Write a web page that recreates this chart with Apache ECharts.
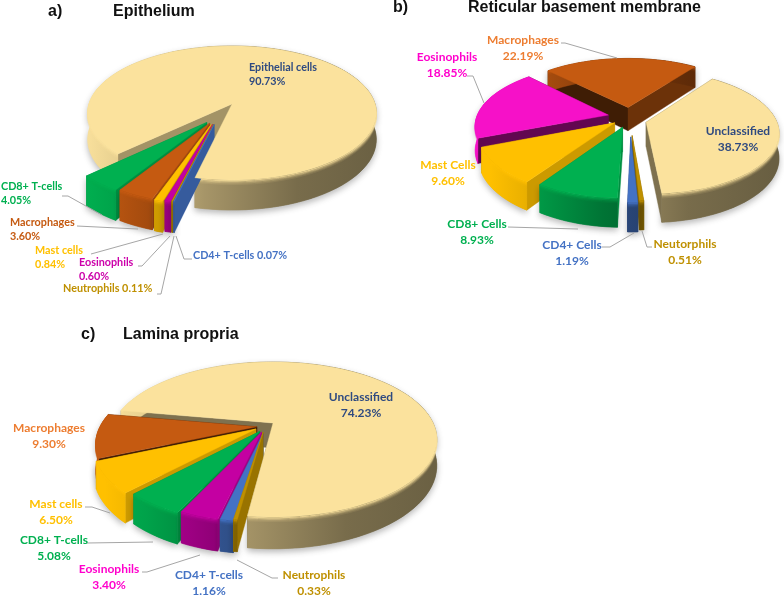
<!DOCTYPE html>
<html><head><meta charset="utf-8">
<style>html,body{margin:0;padding:0;background:#fff}#c{width:784px;height:596px}</style>
<script src="https://cdn.jsdelivr.net/npm/echarts@6/dist/echarts.min.js"></script>
</head><body><div id="c"></div>
<script>
// ---- data (percent, clockwise from the large slice)
const namesA = ['Epithelial cells','CD4+ T-cells','Neutrophils','Eosinophils','Mast cells','Macrophages','CD8+ T-cells'];
const valuesA = [90.73,0.07,0.11,0.60,0.84,3.60,4.05];
const namesB = ['Unclassified','Neutorphils','CD4+ Cells','CD8+ Cells','Mast Cells','Eosinophils','Macrophages'];
const valuesB = [38.73,0.51,1.19,8.93,9.60,18.85,22.19];
const namesC = ['Unclassified','Neutrophils','CD4+ T-cells','Eosinophils','CD8+ T-cells','Mast cells','Macrophages'];
const valuesC = [74.23,0.33,1.16,3.40,5.08,6.50,9.30];

// ---- presentation
const CREAM='#fbe29d',BLUE='#4472c4',GOLD='#bf9000',GREEN='#00b050',AMBER='#ffc000',RUST='#c55a11',PURP='#c400a2',PINK='#f611c8';
const NAVY='#2f4a80',ORANGE='#ed7d31',LPINK='#ff00cc';
const pies = [
 {names:namesA,values:valuesA,cx:232,cy:104,rx:143,ry:65.8,p:0.134,d:26,start:226.4,topOver:true,
  colors:[CREAM,BLUE,GOLD,PURP,AMBER,RUST,GREEN],
  shift:[[0,0],[-.12,.3],[-.125,.3],[-.13,.3],[-.14,.3],[-.15,.28],[-.17,.27]],
  radius:[1,.96,.96,.96,.97,.98,.99],
  cuts:[[.65,.6],[.8,.8],[.8,.8],[.8,.8],[.8,.8],[.8,.8],[.8,.8]],
  font:'bold 10.8px Lato',lh:14,
  labels:[[249,75,'left',NAVY,'Epithelial cells\n90.73%'],[193,256,'left',BLUE,'CD4+ T-cells 0.07%'],[63,289,'left',GOLD,'Neutrophils 0.11%'],[79,270,'left','#cc00aa','Eosinophils\n0.60%'],[35,258,'left',AMBER,'Mast cells\n0.84%'],[10,230,'left',RUST,'Macrophages\n3.60%'],[1,194,'left',GREEN,'CD8+ T-cells\n4.05%']],
  leaders:[[[62,196],[68,196],[102,215]],[[77,226],[138,229]],[[91,254],[163,234]],[[138,266],[142,266],[170,236]],[[157,294],[161,294],[174,236]],[[192,259],[184,259],[176,236]]]},
 {names:namesB,values:valuesB,cx:628,cy:118,rx:132,ry:60,p:0.16,d:24,start:36,
  colors:[CREAM,GOLD,BLUE,GREEN,AMBER,PINK,RUST],
  shift:[[.135,.07],[.03,.28],[.02,.3],[-.04,.15],[-.1,.08],[-.15,-.05],[0,-.18]],
  radius:[.98,.85,.85,.95,1,1,1],
  cuts:[[.5,.5],[.7,.7],[.6,.6],[.8,.8],[.8,.8],[.4,.4],[.32,.55]],
  font:'bold 12px Lato',lh:16,
  labels:[[738,139,'center',NAVY,'Unclassified\n38.73%'],[685,252,'center',GOLD,'Neutorphils\n0.51%'],[572,253,'center',BLUE,'CD4+ Cells\n1.19%'],[477,232,'center',GREEN,'CD8+ Cells\n8.93%'],[448,173,'center',AMBER,'Mast Cells\n9.60%'],[447,65,'center',LPINK,'Eosinophils\n18.85%'],[523,48,'center',ORANGE,'Macrophages\n22.19%']],
  leaders:[[[561,43],[565,43],[617,58]],[[467,76],[473,76],[484,103]],[[508,227],[578,229]],[[602,247],[610,247],[634,233]],[[652,247],[647,247],[642,231]]]},
 {names:namesC,values:valuesC,cx:273,cy:423,rx:160,ry:74,p:0.213,d:25,start:280,topOver:true,
  colors:[CREAM,GOLD,BLUE,PURP,GREEN,AMBER,RUST],
  shift:[[0,0],[-.06,.12],[-.06,.13],[-.07,.12],[-.08,.11],[-.105,.08],[-.1,.05]],
  radius:[1,.91,.91,.92,.94,.97,.97],
  cuts:[[.5,.5],[.8,.8],[.8,.8],[.8,.8],[.8,.8],[.8,.8],[.32,.32]],
  font:'bold 12px Lato',lh:16,
  labels:[[361,405,'center',NAVY,'Unclassified\n74.23%'],[314,583,'center',GOLD,'Neutrophils\n0.33%'],[209,583,'center',BLUE,'CD4+ T-cells\n1.16%'],[109,577,'center',LPINK,'Eosinophils\n3.40%'],[54,548,'center',GREEN,'CD8+ T-cells\n5.08%'],[56,512,'center',AMBER,'Mast cells\n6.50%'],[49,436,'center',ORANGE,'Macrophages\n9.30%']],
  leaders:[[[85,507],[92,507],[110,513]],[[87,543],[153,542]],[[142,572],[147,572],[200,555]],[[278,578],[272,578],[237,560]]]}
];
const titles = [['a)',48,4],['Epithelium',113,4],['b)',393,0],['Reticular basement membrane',468,0],['c)',81,327],['Lamina propria',123,327]];

function shade(hex,f){
  const n=parseInt(hex.slice(1),16);
  const c=[n>>16,(n>>8)&255,n&255].map(v=>Math.round(v*f));
  return 'rgb('+c.join(',')+')';
}
function rows(P){
  const total=P.values.reduce((s,v)=>s+v,0);let acc=0;
  const out=P.values.map((v,i)=>{const r=[v,acc,i];acc+=v;return r;});
  const mid=r=>P.start+(r[1]+r[0]/2)/total*360;
  return out.sort((a,b)=>(-Math.cos(mid(a)*Math.PI/180))-(-Math.cos(mid(b)*Math.PI/180)));
}
function makeRender(P){
  const total=P.values.reduce((s,v)=>s+v,0);
  const pt=(x,z,h)=>{const s=1/(1-P.p*z);return [P.cx+P.rx*x*s,P.cy+P.ry*z*s+h*P.d*s];};
  return function(params,api){
    const v=api.value(0),acc=api.value(1),i=api.value(2);
    const a0=P.start+acc/total*360,a1=a0+v/total*360;
    const [sx,sz]=P.shift[i],col=P.colors[i],cut=P.cuts[i],rad=P.radius[i];
    const n=Math.max(2,Math.ceil((a1-a0)/3));
    const arc=(h)=>{const o=[];for(let k=0;k<=n;k++){const a=(a0+(a1-a0)*k/n)*Math.PI/180;o.push(pt(sx+rad*Math.sin(a),sz-rad*Math.cos(a),h));}return o;};
    const apex=h=>pt(sx,sz,h);
    const top=arc(0),bot=arc(1);
    const L=P.cx-P.rx*1.05,R=P.cx+P.rx*1.1;
    const grad=f=>({type:'linear',x:L,y:0,x2:R,y2:0,global:true,colorStops:[{offset:0,color:shade(col,1*f)},{offset:.12,color:shade(col,.92*f)},{offset:.4,color:shade(col,.66*f)},{offset:.7,color:shade(col,.48*f)},{offset:1,color:shade(col,.42*f)}]});
    const kids=[];
    const wall=(pts,fill,extra)=>kids.push({type:'polygon',silent:true,shape:{points:pts},style:Object.assign({fill:fill,stroke:fill,lineWidth:.4},extra||{})});
    wall(bot.concat(top.slice().reverse()),grad(1),{shadowColor:'rgba(0,0,0,.28)',shadowBlur:6,shadowOffsetY:3});
    wall([apex(0),top[0],bot[0],apex(1)],shade(col,cut[0]));
    wall([apex(0),top[n],bot[n],apex(1)],i===0&&P.start!==36?grad(cut[1]/.6):shade(col,cut[1]));
    // outer wall on top of the cut walls, with a soft bevel under the rim
    wall(bot.concat(top.slice().reverse()),grad(1));
    [[.8,.8],[2,.5],[3.2,.25],[4.4,.1]].forEach(b=>{
      const o=top.map(q=>[q[0],q[1]+b[0]]);
      kids.push({type:'polyline',silent:true,shape:{points:o},style:{fill:'none',stroke:col,opacity:b[1],lineWidth:1.3}});
    });
    const face=[apex(0)].concat(top);
    kids.push({type:'polygon',silent:true,z2:(P.topOver&&i===0)?10:0,shape:{points:face},style:{fill:col,stroke:col,lineWidth:.4}});
    return {type:'group',children:kids};
  };
}
function labelRender(P){
  return function(params){
    const l=P.labels[params.dataIndex];
    return {type:'text',silent:true,x:l[0],y:l[1],style:{text:l[4],fill:l[3],font:P.font,align:l[2],verticalAlign:'middle',lineHeight:P.lh}};
  };
}
function leaderRender(P){
  return function(params){
    return {type:'polyline',silent:true,shape:{points:P.leaders[params.dataIndex]},style:{fill:'none',stroke:'#a6a6a6',lineWidth:1}};
  };
}
const series=[];
pies.forEach((P,k)=>{
  series.push({type:'custom',name:'pie'+k,coordinateSystem:'none',silent:true,animation:false,clip:false,data:rows(P),renderItem:makeRender(P),z:2});
  series.push({type:'custom',name:'leaders'+k,coordinateSystem:'none',silent:true,animation:false,clip:false,data:P.leaders.map((_,i)=>[i]),renderItem:leaderRender(P),z:3});
  series.push({type:'custom',name:'labels'+k,coordinateSystem:'none',silent:true,animation:false,clip:false,data:P.labels.map((_,i)=>[i]),renderItem:labelRender(P),z:4});
});
const chart=echarts.init(document.getElementById('c'),null,{renderer:'canvas'});
chart.setOption({
  animation:false,backgroundColor:'#fff',
  title:titles.map(t=>({text:t[0],left:t[1],top:t[2],padding:0,textStyle:{fontFamily:'Liberation Sans',fontWeight:'bold',fontSize:16,color:'#111'}})),
  series:series
});
</script></body></html>
